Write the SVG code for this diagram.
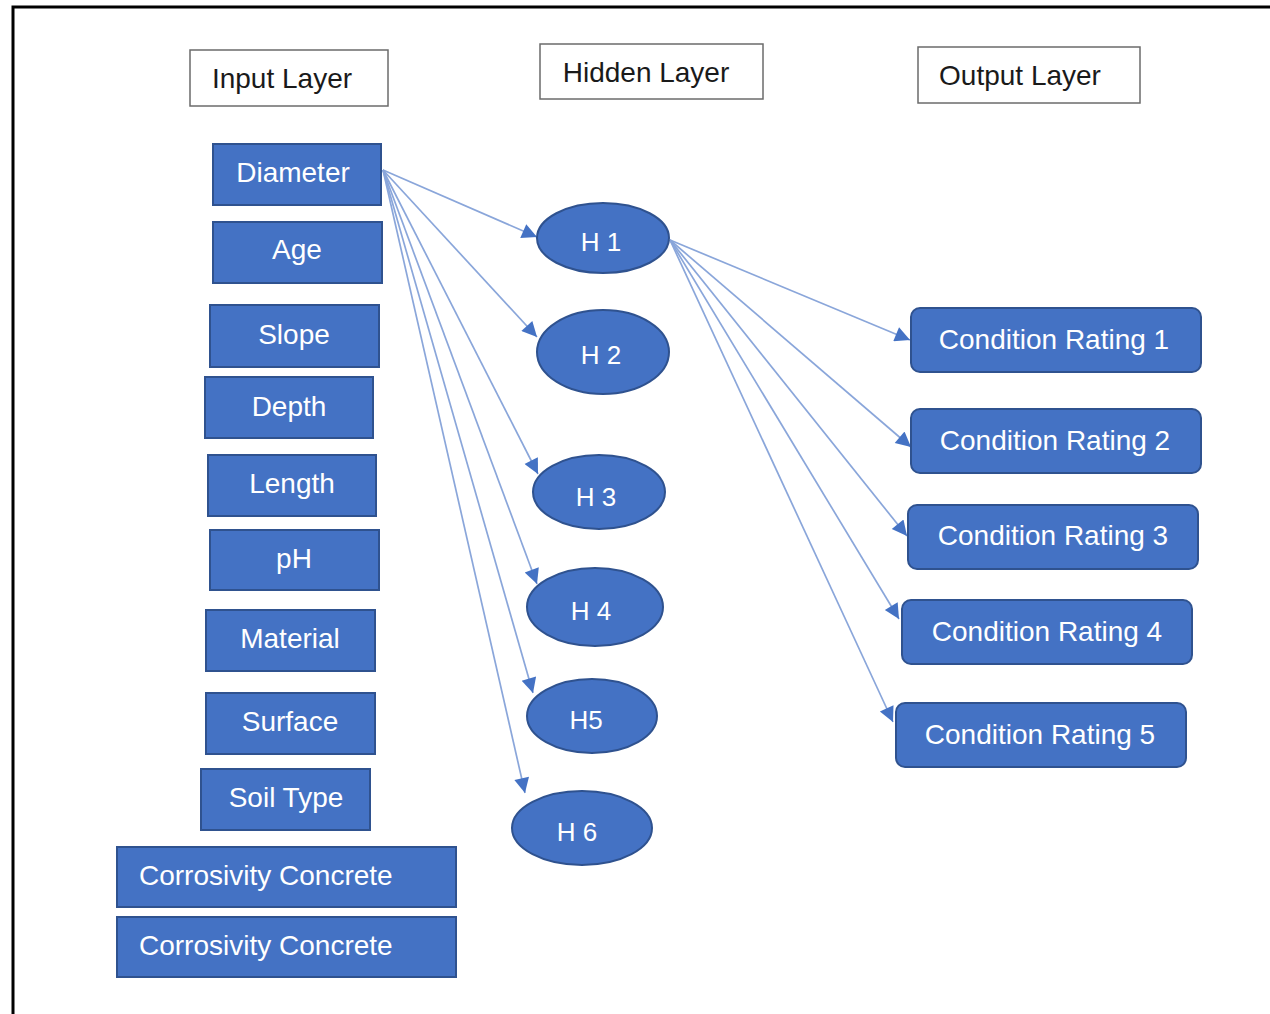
<svg xmlns="http://www.w3.org/2000/svg" width="1270" height="1014" viewBox="0 0 1270 1014">
  <style>
    .hdr rect { fill: #ffffff; stroke: #6b6b6b; stroke-width: 1.5; }
    .hdr text { fill: #1a1a1a; font-family: "Liberation Sans", Arial, sans-serif; font-size: 28px; text-anchor: middle; }
    .in rect { fill: #4472C4; stroke: #2F528F; stroke-width: 2; }
    .out rect { fill: #4472C4; stroke: #2F528F; stroke-width: 2; }
    .hid ellipse { fill: #4472C4; stroke: #2F528F; stroke-width: 2; }
    .lbl { fill: #ffffff; font-family: "Liberation Sans", Arial, sans-serif; font-size: 28px; text-anchor: middle; }
    .lbl.left { text-anchor: start; }
    .hid .lbl { font-size: 26px; }
    .edges line { stroke: #8AA6DA; stroke-width: 1.7; fill: none; marker-end: url(#arrow); }
  </style>
  <defs>
    <marker id="arrow" viewBox="0 0 10 10" refX="10" refY="5" markerWidth="18" markerHeight="15" markerUnits="userSpaceOnUse" orient="auto">
      <path d="M0,0 L10,5 L0,10 z" fill="#4472C4"/>
    </marker>
  </defs>

  <rect width="1270" height="1014" fill="#ffffff"/>
  <!-- outer frame: left and top edges -->
  <path d="M13,1014 V7 H1270" fill="none" stroke="#000000" stroke-width="3"/>

  <!-- layer titles -->
  <g id="title-input" class="hdr"><rect x="190" y="50" width="198" height="56"/><text x="282" y="88">Input Layer</text></g>
  <g id="title-hidden" class="hdr"><rect x="540" y="44" width="223" height="55"/><text x="646" y="82">Hidden Layer</text></g>
  <g id="title-output" class="hdr"><rect x="918" y="47" width="222" height="56"/><text x="1020" y="85">Output Layer</text></g>

  <!-- connectors -->
  <g id="edges" class="edges">
    <line x1="383" y1="170" x2="537" y2="237"/>
    <line x1="383" y1="170" x2="537" y2="337"/>
    <line x1="383" y1="170" x2="538" y2="474"/>
    <line x1="383" y1="170" x2="537" y2="584"/>
    <line x1="383" y1="170" x2="533" y2="693"/>
    <line x1="383" y1="170" x2="525" y2="793"/>
    <line x1="670" y1="240" x2="910" y2="340"/>
    <line x1="670" y1="240" x2="911" y2="447"/>
    <line x1="670" y1="240" x2="907" y2="536"/>
    <line x1="670" y1="240" x2="899" y2="619"/>
    <line x1="670" y1="240" x2="893" y2="722"/>
  </g>

  <!-- input layer -->
  <g id="in-diameter" class="in"><rect x="213" y="144" width="168" height="61"/><text class="lbl" x="293" y="182">Diameter</text></g>
  <g id="in-age" class="in"><rect x="213" y="222" width="169" height="61"/><text class="lbl" x="297" y="259">Age</text></g>
  <g id="in-slope" class="in"><rect x="210" y="305" width="169" height="62"/><text class="lbl" x="294" y="344">Slope</text></g>
  <g id="in-depth" class="in"><rect x="205" y="377" width="168" height="61"/><text class="lbl" x="289" y="416">Depth</text></g>
  <g id="in-length" class="in"><rect x="208" y="455" width="168" height="61"/><text class="lbl" x="292" y="493">Length</text></g>
  <g id="in-ph" class="in"><rect x="210" y="530" width="169" height="60"/><text class="lbl" x="294" y="568">pH</text></g>
  <g id="in-material" class="in"><rect x="206" y="610" width="169" height="61"/><text class="lbl" x="290" y="648">Material</text></g>
  <g id="in-surface" class="in"><rect x="206" y="693" width="169" height="61"/><text class="lbl" x="290" y="731">Surface</text></g>
  <g id="in-soil" class="in"><rect x="201" y="769" width="169" height="61"/><text class="lbl" x="286" y="807">Soil Type</text></g>
  <g id="in-corr1" class="in"><rect x="117" y="847" width="339" height="60"/><text class="lbl left" x="139" y="885">Corrosivity Concrete</text></g>
  <g id="in-corr2" class="in"><rect x="117" y="917" width="339" height="60"/><text class="lbl left" x="139" y="955">Corrosivity Concrete</text></g>

  <!-- hidden layer -->
  <g id="h1" class="hid"><ellipse cx="603" cy="238" rx="66" ry="35"/><text class="lbl" x="601" y="251">H 1</text></g>
  <g id="h2" class="hid"><ellipse cx="603" cy="352" rx="66" ry="42"/><text class="lbl" x="601" y="364">H 2</text></g>
  <g id="h3" class="hid"><ellipse cx="599" cy="492" rx="66" ry="37"/><text class="lbl" x="596" y="506">H 3</text></g>
  <g id="h4" class="hid"><ellipse cx="595" cy="607" rx="68" ry="39"/><text class="lbl" x="591" y="620">H 4</text></g>
  <g id="h5" class="hid"><ellipse cx="592" cy="716" rx="65" ry="37"/><text class="lbl" x="586" y="729">H5</text></g>
  <g id="h6" class="hid"><ellipse cx="582" cy="828" rx="70" ry="37"/><text class="lbl" x="577" y="841">H 6</text></g>

  <!-- output layer -->
  <g id="out-1" class="out"><rect x="911" y="308" width="290" height="64" rx="9"/><text class="lbl" x="1054" y="349">Condition Rating 1</text></g>
  <g id="out-2" class="out"><rect x="911" y="409" width="290" height="64" rx="9"/><text class="lbl" x="1055" y="450">Condition Rating 2</text></g>
  <g id="out-3" class="out"><rect x="908" y="505" width="290" height="64" rx="9"/><text class="lbl" x="1053" y="545">Condition Rating 3</text></g>
  <g id="out-4" class="out"><rect x="902" y="600" width="290" height="64" rx="9"/><text class="lbl" x="1047" y="641">Condition Rating 4</text></g>
  <g id="out-5" class="out"><rect x="896" y="703" width="290" height="64" rx="9"/><text class="lbl" x="1040" y="744">Condition Rating 5</text></g>
</svg>
